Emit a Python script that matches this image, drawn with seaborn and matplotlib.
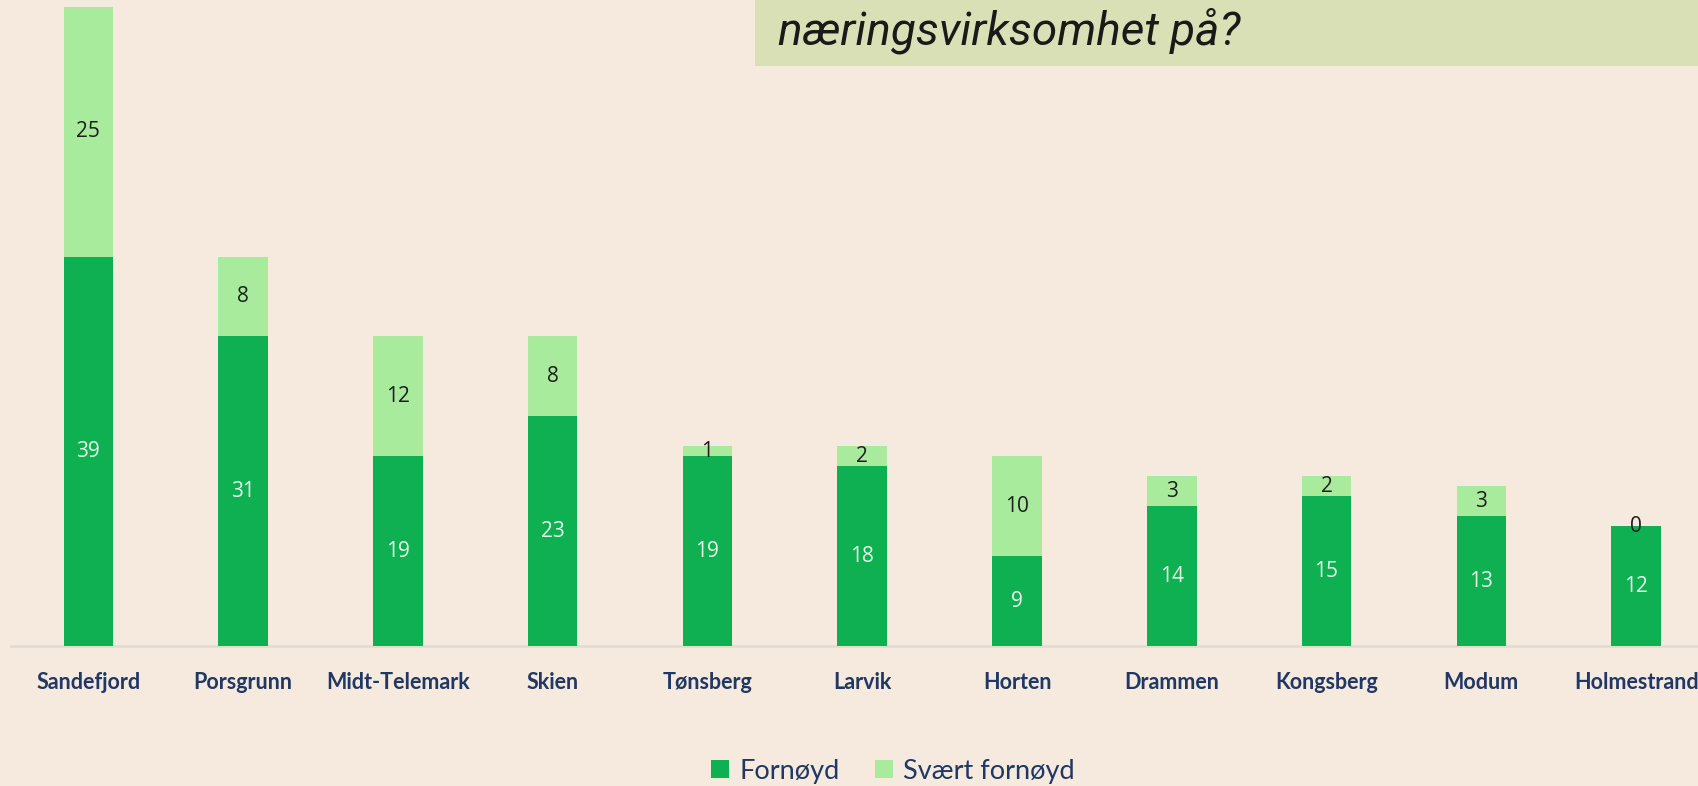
import matplotlib
matplotlib.use("Agg")
import matplotlib.pyplot as plt
import seaborn as sns
import numpy as np
from matplotlib.patches import Rectangle, Patch

cities = ["Sandefjord", "Porsgrunn", "Midt-Telemark", "Skien", "Tønsberg", "Larvik",
          "Horten", "Drammen", "Kongsberg", "Modum", "Holmestrand"]
fornoyd = [39, 31, 19, 23, 19, 18, 9, 14, 15, 13, 12]
svaert_fornoyd = [25, 8, 12, 8, 1, 2, 10, 3, 2, 3, 0]
series_names = ["Fornøyd", "Svært fornøyd"]
title_text = "næringsvirksomhet på?"

BG = "#F6E9DD"
DARK = "#0EB052"
LIGHT = "#A8EB9C"
NAVY = "#1F3864"
BOX = "#D9E0B5"

sns.set_theme(style="white")
plt.rcParams["font.family"] = ["Lato", "DejaVu Sans"]

fig = plt.figure(figsize=(16.98, 7.86), dpi=100, facecolor=BG)
ax = fig.add_axes([11/1698, 1 - 646/786, 1 - 11/1698, 646/786])
ax.set_facecolor(BG)

totals = [a + b for a, b in zip(fornoyd, svaert_fornoyd)]
sns.barplot(x=cities, y=totals, color=LIGHT, width=0.32, saturation=1, ax=ax,
            linewidth=0, edgecolor="none", zorder=2)
sns.barplot(x=cities, y=fornoyd, color=DARK, width=0.32, saturation=1, ax=ax,
            linewidth=0, edgecolor="none", zorder=3)

# labels
for i, (f, s) in enumerate(zip(fornoyd, svaert_fornoyd)):
    ax.text(i, f / 2, str(f), ha="center", va="center", color="#EAF5EA",
            fontsize=15, family=["Open Sans", "DejaVu Sans"], zorder=5)
    ax.text(i, f + s / 2, str(s), ha="center", va="center", color="#1E1E1E",
            fontsize=15, family=["Open Sans", "DejaVu Sans"], zorder=5)

ax.set_xlim(-0.5, 10.4)
ax.set_ylim(0, 64.7)
ax.set_yticks([])
for sp in ["top", "right", "left"]:
    ax.spines[sp].set_visible(False)
ax.spines["bottom"].set_color("#E2DCD3")
ax.spines["bottom"].set_linewidth(2)
ax.tick_params(axis="x", length=0, pad=19)
for lab in ax.get_xticklabels():
    lab.set_fontweight("bold")
    lab.set_color(NAVY)
    lab.set_fontsize(15.5)
ax.set_xlabel("")
ax.set_ylabel("")

# title box
fig.patches.append(Rectangle((755/1698, 1 - 66/786), 1, 66/786, transform=fig.transFigure,
                             facecolor=BOX, edgecolor="none", zorder=0))
fig.text(778/1698, 1 - 31/786, title_text, ha="left", va="center", fontsize=33,
         style="italic", color="#1A1A1A",
         family=["Roboto", "DejaVu Sans"])

handles = [Patch(facecolor=DARK, edgecolor="none"), Patch(facecolor=LIGHT, edgecolor="none")]
leg = fig.legend(handles, series_names, loc="center", bbox_to_anchor=(893/1698, 1 - 771/786),
                 ncol=2, frameon=False, fontsize=19.5, handlelength=0.65, handleheight=0.65,
                 handletextpad=0.4, columnspacing=1.3)
for t in leg.get_texts():
    t.set_color(NAVY)

fig.savefig("out.png", dpi=100, facecolor=BG)
